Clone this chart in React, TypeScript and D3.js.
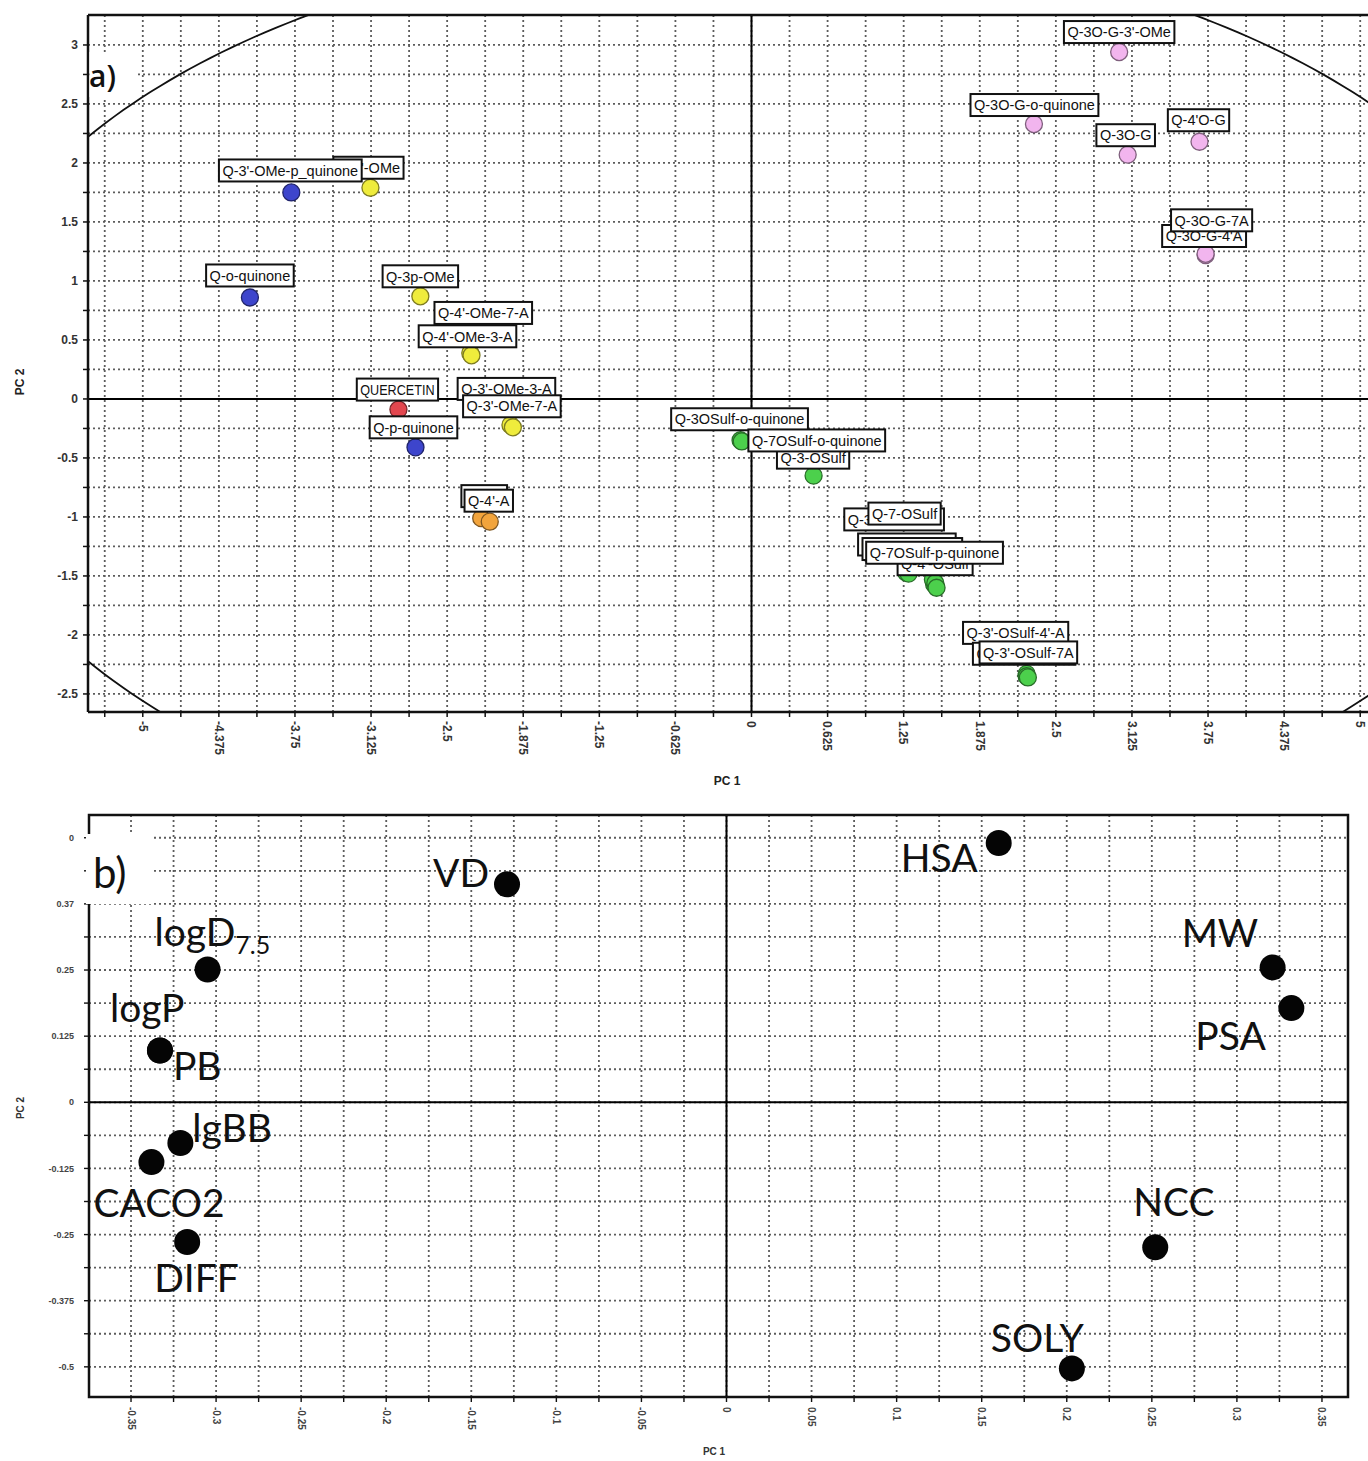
import React, { useEffect, useRef } from 'react';
import * as d3 from 'd3';

// ---------------- Panel a: compound scores ----------------
const compoundNames = [
  "Q-3'-OMe", "Q-3'-OMe-p_quinone", "Q-o-quinone", "Q-3p-OMe", "Q-4'-OMe-7-A", "Q-4'-OMe-3-A",
  "QUERCETIN", "Q-3'-OMe-3-A", "Q-3'-OMe-7-A", "Q-p-quinone", "Q-7-A", "Q-4'-A",
  "Q-3-OSulf", "Q-3OSulf-o-quinone", "Q-7OSulf-o-quinone",
  "Q-4'-OSulf", "Q-3-OSulf-4'A", "Q-7-OSulf-3-A", "Q-3-OSulf-7-A", "Q-7-OSulf", "Q-7OSulf-p-quinone",
  "Q-3'-OSulf-4'-A", "Q-3'-OSulf-3-A", "Q-3'-OSulf-7A",
  "Q-3O-G-3'-OMe", "Q-3O-G-o-quinone", "Q-3O-G", "Q-4'O-G", "Q-3O-G-4'A", "Q-3O-G-7A",
];
const compoundGroups = [
  'yellow', 'blue', 'blue', 'yellow', 'yellow', 'yellow',
  'red', 'yellow', 'yellow', 'blue', 'orange', 'orange',
  'green', 'green', 'green',
  'green', 'green', 'green', 'green', 'green', 'green',
  'green', 'green', 'green',
  'pink', 'pink', 'pink', 'pink', 'pink', 'pink',
];
const compoundPC1 = [
  -3.13, -3.78, -4.12, -2.72, -2.31, -2.30,
  -2.90, -1.98, -1.96, -2.76, -2.22, -2.15,
  0.51, -0.09, -0.08,
  1.50, 1.49, 1.51, 1.27, 1.29, 1.52,
  2.26, 2.26, 2.27,
  3.02, 2.32, 3.09, 3.68, 3.73, 3.73,
];
const compoundPC2 = [
  1.79, 1.75, 0.86, 0.87, 0.39, 0.37,
  -0.09, -0.22, -0.24, -0.41, -1.01, -1.04,
  -0.65, -0.35, -0.36,
  -1.57, -1.53, -1.56, -1.47, -1.48, -1.60,
  -2.33, -2.35, -2.36,
  2.94, 2.33, 2.07, 2.18, 1.22, 1.23,
];
// label box centre offsets (pixels) from each marker
const compoundLabelDx = [
  -2, -1, 0, 0, 13, -4,
  -1, -4, -1, -2, 3, -1,
  -0.5, -1, 75,
  1, -26, -23, -12, -4, -2,
  -11, -2.5, 0.5,
  0, 0.5, -2, -1, -1.5, 6,
];
const compoundLabelDy = [
  -20, -22, -22, -20, -40, -19,
  -20, -36, -21, -20, -22, -21,
  -18, -21, -1,
  -20, -35, -34, -53, -60, -35,
  -41, -22.5, -25,
  -20, -19, -19.5, -21.5, -19, -33.5,
];
const groupColors: Record<string, string> = {
  blue: '#3d45cc',
  yellow: '#efec3c',
  red: '#e2474f',
  orange: '#f2a43c',
  green: '#4cd04c',
  pink: '#f2b5ee',
};
const xTickLabelsA = ['-5', '-4.375', '-3.75', '-3.125', '-2.5', '-1.875', '-1.25', '-0.625', '0',
  '0.625', '1.25', '1.875', '2.5', '3.125', '3.75', '4.375', '5'];
const yTickLabelsA = ['3', '2.5', '2', '1.5', '1', '0.5', '0', '-0.5', '-1', '-1.5', '-2', '-2.5'];
const ELLIPSE_RX = 6.64;
const ELLIPSE_RY = 3.89;

// ---------------- Panel b: descriptor loadings ----------------
const descriptorNames = ['HSA', 'VD', 'logD', 'logP', 'PB', 'MW', 'PSA', 'lgBB', 'CACO2', 'DIFF', 'NCC', 'SOLY'];
const descriptorPC1 = [0.160, -0.129, -0.305, -0.333, -0.333, 0.321, 0.332, -0.321, -0.338, -0.317, 0.252, 0.203];
const descriptorPC2 = [0.490, 0.412, 0.251, 0.098, 0.098, 0.255, 0.178, -0.077, -0.113, -0.264, -0.274, -0.503];
const descriptorLabelDx = [-98, -74, -53, -50, 13, -91, -96, 12, -58, -33, -22, -81];
const descriptorLabelDy = [29, 3, -23, -28, 30, -20, 42, -1, 55, 50, -31, -16];
const xTickLabelsB = ['-0.35', '-0.3', '-0.25', '-0.2', '-0.15', '-0.1', '-0.05', '0',
  '0.05', '0.1', '0.15', '0.2', '0.25', '0.3', '0.35'];
const yTickLabelsB = ['0', '0.37', '0.25', '0.125', '0', '-0.125', '-0.25', '-0.375', '-0.5'];

const W = 1368;
const H = 1461;

export default function App() {
  const ref = useRef<SVGSVGElement>(null);

  useEffect(() => {
    const svg = d3.select(ref.current);
    svg.selectAll('*').remove();
    svg.append('rect').attr('width', W).attr('height', H).attr('fill', '#fff');

    const grid = (sel: any) =>
      sel.attr('stroke', '#5c5c5c').attr('stroke-width', 1.8).attr('stroke-dasharray', '2,3');

    // ===================== PANEL A =====================
    const aL = 88, aT = 15, aB = 712, aR = W;
    const xA = d3.scaleLinear().domain([-5.45, 5.45]).range([88, 1415]);
    const yA = d3.scaleLinear().domain([-2.653, 3.254]).range([712, 15]);

    const defs = svg.append('defs');
    defs.append('clipPath').attr('id', 'clipA').append('rect')
      .attr('x', aL).attr('y', aT).attr('width', aR - aL).attr('height', aB - aT);
    defs.append('clipPath').attr('id', 'clipB').append('rect')
      .attr('x', 89).attr('y', 815).attr('width', 1348 - 89).attr('height', 1397 - 815);

    const gA = svg.append('g');
    const gAc = gA.append('g').attr('clip-path', 'url(#clipA)');

    const xTicksA = d3.range(-17, 18).map((i) => i * 0.3125);
    const yTicksA = d3.range(-10, 13).map((i) => i * 0.25);

    gAc.selectAll('line.vg').data(xTicksA).join('line')
      .attr('x1', (d) => xA(d)).attr('x2', (d) => xA(d)).attr('y1', aT).attr('y2', aB).call(grid);
    gAc.selectAll('line.hg').data(yTicksA).join('line')
      .attr('x1', aL).attr('x2', aR).attr('y1', (d) => yA(d)).attr('y2', (d) => yA(d)).call(grid);

    // zero lines
    gAc.append('line').attr('x1', xA(0)).attr('x2', xA(0)).attr('y1', aT).attr('y2', aB)
      .attr('stroke', '#000').attr('stroke-width', 2);
    gAc.append('line').attr('x1', aL).attr('x2', aR).attr('y1', yA(0)).attr('y2', yA(0))
      .attr('stroke', '#000').attr('stroke-width', 2);

    // Hotelling ellipse
    const angles = d3.range(0, 361, 1).map((a) => (a * Math.PI) / 180);
    const ell = d3.line<number>()
      .x((t) => xA(ELLIPSE_RX * Math.cos(t)))
      .y((t) => yA(ELLIPSE_RY * Math.sin(t)))
      .curve(d3.curveLinear);
    gAc.append('path').attr('d', ell(angles) as string).attr('fill', 'none')
      .attr('stroke', '#111').attr('stroke-width', 1.8);

    // border
    gA.append('line').attr('x1', aL).attr('x2', aR).attr('y1', aT).attr('y2', aT).attr('stroke', '#111').attr('stroke-width', 2.5);
    gA.append('line').attr('x1', aL).attr('x2', aL).attr('y1', aT).attr('y2', aB).attr('stroke', '#111').attr('stroke-width', 2.5);
    gA.append('line').attr('x1', aL).attr('x2', aR).attr('y1', aB).attr('y2', aB).attr('stroke', '#111').attr('stroke-width', 2.5);

    // ticks
    gA.selectAll('line.xt').data(xTicksA).join('line')
      .attr('x1', (d) => xA(d)).attr('x2', (d) => xA(d)).attr('y1', aB).attr('y2', aB + 5)
      .attr('stroke', '#111').attr('stroke-width', 1.5);
    gA.selectAll('line.yt').data(yTicksA).join('line')
      .attr('x1', aL - 5).attr('x2', aL).attr('y1', (d) => yA(d)).attr('y2', (d) => yA(d))
      .attr('stroke', '#111').attr('stroke-width', 1.5);

    const xLabValsA = d3.range(-8, 9).map((i) => i * 0.625);
    gA.selectAll('text.xl').data(xLabValsA).join('text')
      .attr('transform', (d) => `translate(${xA(d)},${aB + 9}) rotate(90)`)
      .attr('dy', '0.35em').attr('text-anchor', 'start')
      .attr('font-family', 'Liberation Sans, Arial, sans-serif').attr('font-size', 12).attr('font-weight', 'bold')
      .attr('fill', '#333')
      .text((d, i) => xTickLabelsA[i]);
    const yLabValsA = d3.range(6, -6, -1).map((i) => i * 0.5);
    gA.selectAll('text.yl').data(yLabValsA).join('text')
      .attr('x', aL - 10).attr('y', (d) => yA(d)).attr('dy', '0.35em').attr('text-anchor', 'end')
      .attr('font-family', 'Liberation Sans, Arial, sans-serif').attr('font-size', 12).attr('font-weight', 'bold')
      .attr('fill', '#333')
      .text((d, i) => yTickLabelsA[i]);

    gA.append('text').attr('x', 727).attr('y', 785).attr('text-anchor', 'middle')
      .attr('font-family', 'Liberation Sans, Arial, sans-serif').attr('font-size', 12).attr('font-weight', 'bold')
      .attr('fill', '#222').text('PC 1');
    gA.append('text').attr('transform', 'translate(24,382) rotate(-90)').attr('text-anchor', 'middle')
      .attr('font-family', 'Liberation Sans, Arial, sans-serif').attr('font-size', 12).attr('font-weight', 'bold')
      .attr('fill', '#222').text('PC 2');

    // "a)" tag
    gA.append('rect').attr('x', aL + 1.5).attr('y', 52).attr('width', 46).attr('height', 45).attr('fill', '#fff');
    gA.append('text').attr('x', 89).attr('y', 87).attr('font-family', 'Open Sans, sans-serif')
      .attr('font-size', 30).attr('font-weight', 600).attr('fill', '#111').text('a)');

    // markers
    const idx = d3.range(compoundNames.length);
    const gPts = gA.append('g').attr('clip-path', 'url(#clipA)');
    gPts.selectAll('circle').data(idx).join('circle')
      .attr('cx', (i) => xA(compoundPC1[i])).attr('cy', (i) => yA(compoundPC2[i])).attr('r', 8.5)
      .attr('fill', (i) => groupColors[compoundGroups[i]])
      .attr('stroke', (i) => (d3.color(groupColors[compoundGroups[i]]) as d3.RGBColor).darker(1.8).formatHex())
      .attr('stroke-width', 1.3);

    // label boxes
    const gLab = gA.append('g').attr('clip-path', 'url(#clipA)');
    idx.forEach((i) => {
      const cx = xA(compoundPC1[i]) + compoundLabelDx[i];
      const cy = yA(compoundPC2[i]) + compoundLabelDy[i];
      const g = gLab.append('g');
      const r = g.append('rect');
      const t = g.append('text').attr('x', cx).attr('y', cy).attr('dy', '0.36em').attr('text-anchor', 'middle')
        .attr('font-family', 'Liberation Sans, Arial, sans-serif').attr('font-size', 14.5)
        .attr('fill', '#111').text(compoundNames[i]);
      let w = (t.node() as SVGTextElement).getComputedTextLength();
      if (compoundNames[i] === 'QUERCETIN') {
        // the original renders this all-caps label in a condensed face
        t.attr('textLength', w * 0.87).attr('lengthAdjust', 'spacingAndGlyphs');
        w = w * 0.87;
      }
      r.attr('x', cx - w / 2 - 3.5).attr('y', cy - 11).attr('width', w + 7).attr('height', 22)
        .attr('fill', '#fff').attr('stroke', '#111').attr('stroke-width', 2);
    });

    // ===================== PANEL B =====================
    const bL = 89, bT = 815, bB = 1397, bR = 1348;
    const xB = d3.scaleLinear().domain([-0.3747, 0.3653]).range([bL, bR]);
    const yB = d3.scaleLinear().domain([-0.557, 0.543]).range([bB, bT]);
    const gB = svg.append('g');
    const gBc = gB.append('g').attr('clip-path', 'url(#clipB)');

    const xTicksB = d3.range(-14, 15).map((i) => i * 0.025);
    const yTicksB = d3.range(-8, 9).map((i) => i * 0.0625);

    gBc.selectAll('line.vg').data(xTicksB).join('line')
      .attr('x1', (d) => xB(d)).attr('x2', (d) => xB(d)).attr('y1', bT).attr('y2', bB).call(grid);
    gBc.selectAll('line.hg').data(yTicksB).join('line')
      .attr('x1', bL).attr('x2', bR).attr('y1', (d) => yB(d)).attr('y2', (d) => yB(d)).call(grid);
    gBc.append('line').attr('x1', xB(0)).attr('x2', xB(0)).attr('y1', bT).attr('y2', bB)
      .attr('stroke', '#000').attr('stroke-width', 2);
    gBc.append('line').attr('x1', bL).attr('x2', bR).attr('y1', yB(0)).attr('y2', yB(0))
      .attr('stroke', '#000').attr('stroke-width', 2);

    gB.append('rect').attr('x', bL).attr('y', bT).attr('width', bR - bL).attr('height', bB - bT)
      .attr('fill', 'none').attr('stroke', '#111').attr('stroke-width', 2.5);

    gB.selectAll('line.xt').data(xTicksB).join('line')
      .attr('x1', (d) => xB(d)).attr('x2', (d) => xB(d)).attr('y1', bB).attr('y2', bB + 5)
      .attr('stroke', '#111').attr('stroke-width', 1.4);
    gB.selectAll('line.yt').data(yTicksB).join('line')
      .attr('x1', bL - 5).attr('x2', bL).attr('y1', (d) => yB(d)).attr('y2', (d) => yB(d))
      .attr('stroke', '#111').attr('stroke-width', 1.4);

    const xLabValsB = d3.range(-7, 8).map((i) => i * 0.05);
    gB.selectAll('text.xl').data(xLabValsB).join('text')
      .attr('transform', (d) => `translate(${xB(d)},${bB + 10}) rotate(90)`)
      .attr('dy', '0.35em').attr('text-anchor', 'start')
      .attr('font-family', 'Liberation Sans, Arial, sans-serif').attr('font-size', 10).attr('font-weight', 'bold')
      .attr('fill', '#444')
      .text((d, i) => xTickLabelsB[i]);
    const yLabValsB = d3.range(4, -5, -1).map((i) => i * 0.125);
    gB.selectAll('text.yl').data(yLabValsB).join('text')
      .attr('x', bL - 15).attr('y', (d) => yB(d)).attr('dy', '0.35em').attr('text-anchor', 'end')
      .attr('font-family', 'Liberation Sans, Arial, sans-serif').attr('font-size', 9).attr('font-weight', 'bold')
      .attr('fill', '#444')
      .text((d, i) => yTickLabelsB[i]);

    gB.append('text').attr('x', 714).attr('y', 1455).attr('text-anchor', 'middle')
      .attr('font-family', 'Liberation Sans, Arial, sans-serif').attr('font-size', 10).attr('font-weight', 'bold')
      .attr('fill', '#333').text('PC 1');
    gB.append('text').attr('transform', 'translate(24,1108) rotate(-90)').attr('text-anchor', 'middle')
      .attr('font-family', 'Liberation Sans, Arial, sans-serif').attr('font-size', 10).attr('font-weight', 'bold')
      .attr('fill', '#333').text('PC 2');

    // "b)" tag
    gB.append('rect').attr('x', 86).attr('y', 834).attr('width', 66).attr('height', 70).attr('fill', '#fff');
    gB.append('text').attr('x', 93).attr('y', 888).attr('font-family', 'Lato, Open Sans, sans-serif')
      .attr('font-size', 42).attr('fill', '#111').text('b)');

    const idxB = d3.range(descriptorNames.length);
    gB.selectAll('circle').data(idxB).join('circle')
      .attr('cx', (i) => xB(descriptorPC1[i])).attr('cy', (i) => yB(descriptorPC2[i])).attr('r', 13)
      .attr('fill', '#050505');

    idxB.forEach((i) => {
      const t = gB.append('text')
        .attr('x', xB(descriptorPC1[i]) + descriptorLabelDx[i])
        .attr('y', yB(descriptorPC2[i]) + descriptorLabelDy[i])
        .attr('font-family', 'Lato, Open Sans, sans-serif').attr('font-size', 39).attr('fill', '#111');
      if (descriptorNames[i] === 'logD') {
        t.append('tspan').text('logD');
        t.append('tspan').attr('font-size', 25).attr('dy', 8).text('7.5');
      } else {
        t.text(descriptorNames[i]);
      }
    });
  }, []);

  return (
    <svg
      ref={ref}
      width={W}
      height={H}
      style={{ position: 'absolute', left: 0, top: 0, display: 'block' }}
    />
  );
}
